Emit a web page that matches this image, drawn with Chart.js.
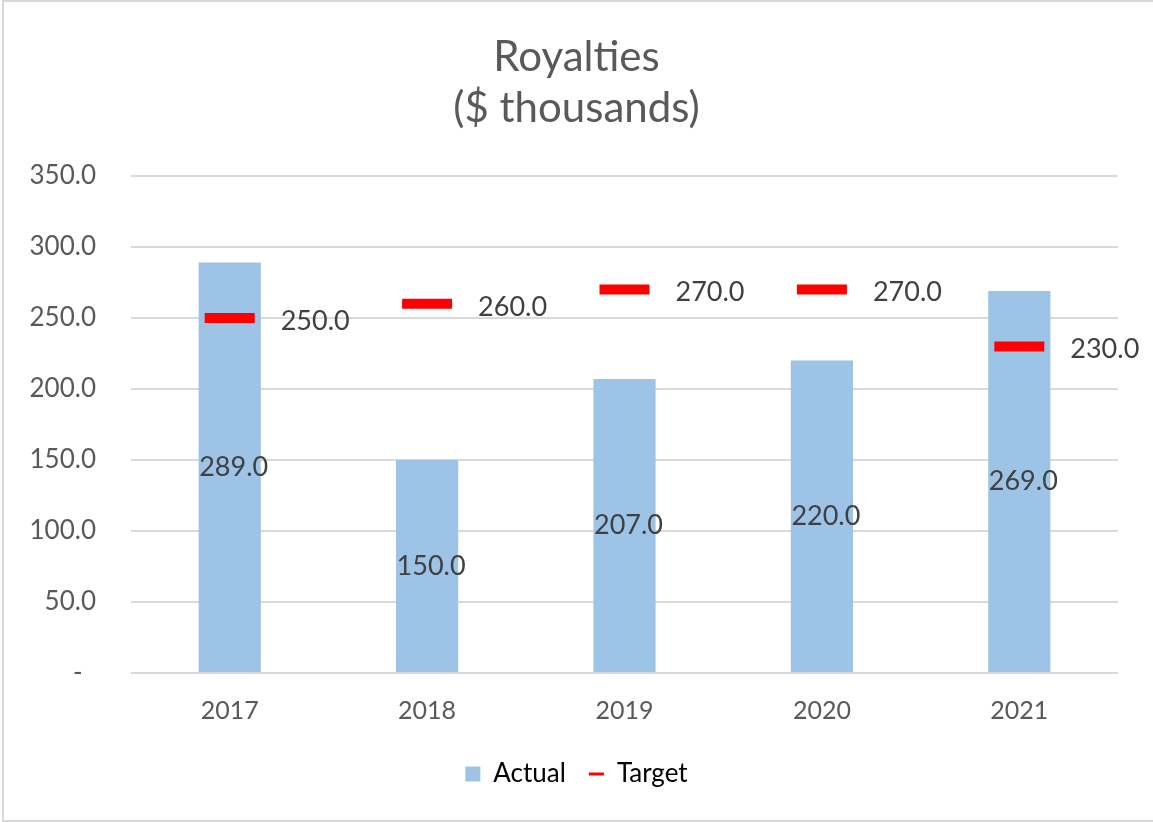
<!DOCTYPE html>
<html>
<head>
<meta charset="utf-8">
<title>Royalties</title>
<script src="https://cdn.jsdelivr.net/npm/chart.js@4.4.1/dist/chart.umd.min.js"></script>
<style>
    html, body { margin: 0; padding: 0; background: #fff; overflow: hidden; }
    #wrap { position: relative; width: 1153px; height: 822px; }
    #frame {
        position: absolute; left: 2px; top: 0; width: 1170px; height: 818px;
        border: 2px solid #d9d9d9; pointer-events: none;
    }
</style>
</head>
<body>
<div id="wrap">
    <canvas id="royaltiesChart" width="1153" height="822"></canvas>
    <div id="frame"></div>
</div>
<script>
/* ================= DATA ================= */
const years = ["2017", "2018", "2019", "2020", "2021"];
const actual = [289.0, 150.0, 207.0, 220.0, 269.0];
const target = [250.0, 260.0, 270.0, 270.0, 230.0];
const titleLines = ["Royalties", "($ thousands)"];

const FONT = "Lato, 'Open Sans', sans-serif";
const BLUE = "#9dc3e6";
const RED = "#ff0000";
const GREY_TEXT = "#595959";

/* ================= VALUE LABELS ================= */
const valueLabels = {
    id: "valueLabels",
    afterDatasetsDraw(chart) {
        const ctx = chart.ctx;
        ctx.save();
        ctx.font = "27px " + FONT;
        ctx.fillStyle = "#404040";
        ctx.textBaseline = "middle";

        ctx.textAlign = "center";
        chart.getDatasetMeta(0).data.forEach((bar, i) => {
            ctx.fillText(actual[i].toFixed(1), bar.x + 4, (bar.y + bar.base) / 2);
        });

        ctx.textAlign = "left";
        chart.getDatasetMeta(1).data.forEach((pt, i) => {
            ctx.fillText(target[i].toFixed(1), pt.x + 51, pt.y + 3);
        });
        ctx.restore();
    }
};

/* ================= CHART ================= */
const ctx = document.getElementById("royaltiesChart").getContext("2d");
new Chart(ctx, {
    type: "bar",
    data: {
        labels: years,
        datasets: [
            {
                label: "Actual",
                data: actual,
                backgroundColor: BLUE,
                categoryPercentage: 1,
                barPercentage: 0.315,
                order: 1
            },
            {
                type: "line",
                label: "Target",
                data: target,
                showLine: false,
                pointStyle: "line",
                pointRadius: 25,
                pointBorderWidth: 10,
                pointBorderColor: RED,
                pointBackgroundColor: RED,
                borderColor: RED,
                order: 0
            }
        ]
    },
    options: {
        responsive: false,
        animation: false,
        layout: { padding: { left: 0, right: 0, top: 0, bottom: 25 } },
        plugins: {
            tooltip: { enabled: false },
            title: {
                display: true,
                text: titleLines,
                color: GREY_TEXT,
                font: { family: FONT, size: 42, weight: "normal", lineHeight: 1.2143 },
                padding: { top: 32, bottom: 42 }
            },
            legend: {
                position: "bottom",
                labels: {
                    color: GREY_TEXT,
                    font: { family: FONT, size: 26 },
                    usePointStyle: true,
                    boxHeight: 15,
                    pointStyleWidth: 15,
                    padding: 23,
                    generateLabels: () => [
                        { text: "Actual", fillStyle: BLUE, strokeStyle: BLUE, lineWidth: 0, pointStyle: "rect", datasetIndex: 0, hidden: false },
                        { text: "Target", fillStyle: RED, strokeStyle: RED, lineWidth: 3, pointStyle: "line", datasetIndex: 1, hidden: false }
                    ]
                }
            }
        },
        scales: {
            x: {
                afterFit: axis => { axis.height = 65; },
                grid: { display: false },
                border: { display: false },
                ticks: {
                    color: GREY_TEXT,
                    font: { family: FONT, size: 25 },
                    padding: 15
                }
            },
            y: {
                min: 0,
                max: 350,
                afterFit: axis => { axis.width = 131; },
                grid: { color: "#d9d9d9", lineWidth: 2, drawTicks: false },
                border: { display: false },
                ticks: {
                    stepSize: 50,
                    color: GREY_TEXT,
                    font: { family: FONT, size: 26 },
                    padding: 35,
                    callback: v => (v === 0 ? "-  " : v.toFixed(1))
                }
            },
            // empty right-hand gutter so the title and legend stay centred on the canvas
            gutter: {
                type: "linear",
                position: "right",
                afterFit: axis => { axis.width = 33; },
                grid: { display: false },
                border: { display: false },
                ticks: { display: false }
            }
        }
    },
    plugins: [valueLabels]
});
</script>
</body>
</html>
